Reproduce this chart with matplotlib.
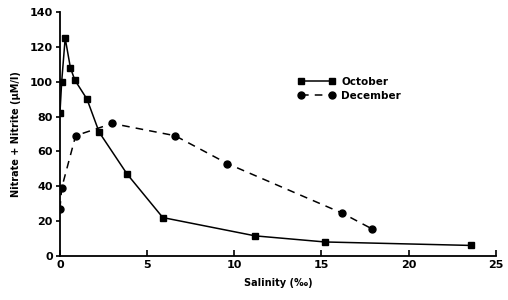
import matplotlib.pyplot as plt

# October
oct_sal = [0.0, 0.1, 0.3, 0.6, 0.85, 1.55, 2.25, 3.85, 5.9, 11.2, 15.2, 23.6]
oct_no3 = [82, 100, 125, 108, 101, 90, 71, 47, 22, 11.5, 8, 6]

# December
dec_sal = [0.0, 0.1, 0.9, 3.0, 6.6, 9.6, 16.2, 17.9]
dec_no3 = [27, 39, 69, 76, 69, 53, 24.5, 15.5]

plt.rcParams["font.family"] = "DejaVu Sans"
plt.rcParams["font.weight"] = "bold"

fig = plt.figure(figsize=(5.08, 3.0), dpi=100)
ax = fig.add_axes([0.118, 0.147, 0.858, 0.813])

ax.plot(oct_sal, oct_no3, "k-", marker="s", markersize=5, lw=1.1, label="October")
ax.plot(dec_sal, dec_no3, "k--", marker="o", markersize=5, lw=1.1,
        dashes=(5, 4), label="December")

ax.set_xlim(0, 25)
ax.set_ylim(0, 140)
ax.set_xticks([0, 5, 10, 15, 20, 25])
ax.set_yticks(range(0, 141, 20))
ax.spines["top"].set_visible(False)
ax.spines["right"].set_visible(False)
ax.spines["left"].set_linewidth(1.3)
ax.spines["bottom"].set_linewidth(1.3)
ax.tick_params(axis="x", direction="in", length=4, width=1.2, labelsize=8, pad=3)
ax.tick_params(axis="y", direction="out", length=3, width=1.2, labelsize=8, pad=2)

ax.set_xlabel("Salinity (‰)", fontsize=7, fontweight="bold", labelpad=6)
ax.set_ylabel("Nitrate + Nitrite (μM/l)", fontsize=7, fontweight="bold", labelpad=6)

ax.legend(loc="upper left", bbox_to_anchor=(0.535, 0.755), frameon=False,
          fontsize=7.5, numpoints=2, handlelength=3.5, borderpad=0,
          labelspacing=0.4, handletextpad=0.6)

fig.savefig("out.png", dpi=100)
